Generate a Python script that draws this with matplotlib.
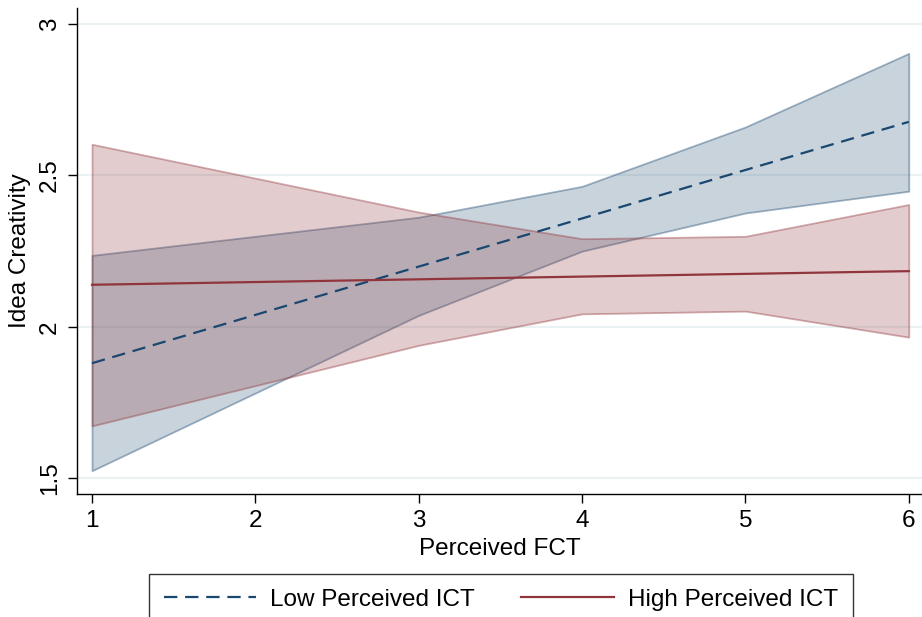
import matplotlib.pyplot as plt

plt.rcParams["font.family"] = ["Liberation Sans", "DejaVu Sans"]

# Perceived FCT values where the margins were evaluated (visible vertices)
fct = [1, 3, 4, 5, 6]

# Low perceived ICT: predicted idea creativity and 95% CI
low_mean = [1.880, 2.199, 2.358, 2.518, 2.677]
low_upper = [2.236, 2.362, 2.464, 2.660, 2.903]
low_lower = [1.525, 2.038, 2.250, 2.376, 2.448]

# High perceived ICT
high_mean = [2.139, 2.157, 2.166, 2.175, 2.184]
high_upper = [2.603, 2.379, 2.291, 2.299, 2.404]
high_lower = [1.673, 1.939, 2.043, 2.052, 1.966]

x_ticks = [1, 2, 3, 4, 5, 6]
y_ticks = [1.5, 2, 2.5, 3]
y_tick_labels = ["1.5", "2", "2.5", "3"]

NAVY = "#1a476f"
MAROON = "#90353b"
FS = 17.5

fig = plt.figure(figsize=(9.22, 6.17), dpi=100)
ax = fig.add_axes([77 / 922, 1 - 494 / 617, 1 - 77 / 922, (494 - 8) / 617])

ax.fill_between(fct, low_lower, low_upper, facecolor=(26/255, 71/255, 111/255, 0.24),
                edgecolor=(26/255, 71/255, 111/255, 0.4), linewidth=1.3, zorder=2)
ax.fill_between(fct, high_lower, high_upper, facecolor=(144/255, 53/255, 59/255, 0.25),
                edgecolor=(144/255, 53/255, 59/255, 0.4), linewidth=1.3, zorder=2)

ax.plot(fct, low_mean, color=NAVY, lw=1.6, dashes=(6, 3.5), zorder=3,
        label="Low Perceived ICT")
ax.plot(fct, high_mean, color=MAROON, lw=1.6, zorder=3, label="High Perceived ICT")

ax.set_xlim(0.908, 6.081)
ax.set_ylim(1.448, 3.053)
ax.set_xticks(x_ticks)
ax.set_yticks(y_ticks)
ax.set_yticklabels(y_tick_labels, rotation=90, va="center")
ax.grid(axis="y", color="#eaf2f3", lw=1.5, zorder=0)
ax.set_axisbelow(True)

for side in ("top", "right"):
    ax.spines[side].set_visible(False)
for side in ("left", "bottom"):
    ax.spines[side].set_linewidth(1.0)
    ax.spines[side].set_color("black")

ax.tick_params(axis="both", direction="out", length=6.5, width=1.0, labelsize=FS, pad=5)
ax.set_xlabel("Perceived FCT", fontsize=FS, labelpad=4)
ax.set_ylabel("Idea Creativity", fontsize=FS, labelpad=6)

leg = fig.legend(loc="upper center", bbox_to_anchor=(501 / 922, 1 - 574 / 617),
                 ncol=2, fontsize=FS, frameon=True, fancybox=False,
                 borderaxespad=0, handlelength=3.8, handletextpad=0.6,
                 columnspacing=1.9, borderpad=0.6)
leg.get_frame().set_edgecolor("black")
leg.get_frame().set_linewidth(1.0)

fig.savefig("out.png", dpi=100)
